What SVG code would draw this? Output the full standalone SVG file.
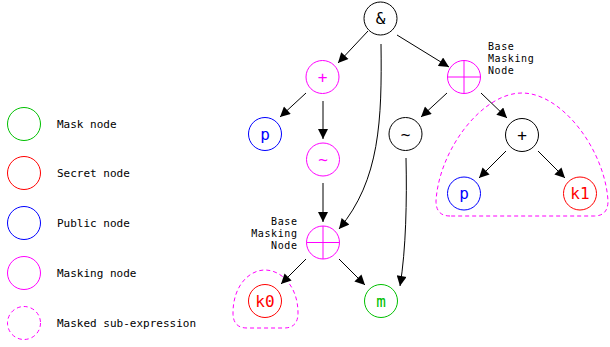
<svg xmlns="http://www.w3.org/2000/svg" width="610" height="347" viewBox="0 0 610 347">
<defs>
<style>
text{font-family:"DejaVu Sans Mono","Liberation Mono",monospace;}
.lbl{font-size:16px;text-anchor:middle;dominant-baseline:central;}
.leg{font-size:11px;fill:#000;}
.bm{font-size:10px;letter-spacing:0.6px;fill:#000;}
.n{fill:#fff;stroke-width:1;}
.blk{stroke:#000;}
.mag{stroke:#ff00ff;}
.grn{stroke:#00c000;}
.red{stroke:#ff0000;}
.blu{stroke:#0000ff;}
.e{fill:none;stroke:#000;stroke-width:1;marker-end:url(#ah);}
.dash{fill:none;stroke:#ff00ff;stroke-width:1;stroke-dasharray:4,3;}
</style>
<marker id="ah" viewBox="0 0 10 10" refX="10" refY="5" markerWidth="11" markerHeight="10" markerUnits="userSpaceOnUse" orient="auto">
<path d="M0,0 L10,5 L0,10 Z" fill="#000"/>
</marker>
</defs>
<rect width="610" height="347" fill="#fff"/>

<g id="legend">
<circle cx="24" cy="124" r="16.5" class="n grn"/>
<text x="57" y="128" class="leg">Mask node</text>
<circle cx="24" cy="173" r="16.5" class="n red"/>
<text x="57" y="177" class="leg">Secret node</text>
<circle cx="24" cy="223" r="16.5" class="n blu"/>
<text x="57" y="227" class="leg">Public node</text>
<circle cx="24" cy="273" r="16.5" class="n mag"/>
<text x="57" y="277" class="leg">Masking node</text>
<circle cx="24" cy="323" r="16.5" class="dash"/>
<text x="57" y="327" class="leg">Masked sub-expression</text>
</g>

<g id="subexpr">
<path class="dash" d="M450 216 Q436 216 436 201 C439 150 482 93 522 93 C562 93 605 150 608 201 Q608 216 594 216 Z"/>
<path class="dash" d="M247 328 Q233 328 233 313 C233 286 249 270 265 270 C281 270 298 286 298 313 Q298 328 284 328 Z"/>
</g>

<g id="connectors">
<line class="e" x1="368" y1="31" x2="338" y2="63"/>
<line class="e" x1="397" y1="35" x2="449" y2="67"/>
<path class="e" d="M381 44 C382 120 380 180 339 229"/>
<line class="e" x1="306" y1="93" x2="280" y2="117"/>
<line class="e" x1="323" y1="101" x2="323" y2="139"/>
<line class="e" x1="323" y1="183" x2="323" y2="222"/>
<line class="e" x1="447" y1="93" x2="421" y2="117"/>
<line class="e" x1="481" y1="93" x2="507" y2="118"/>
<path class="e" d="M406 158 C407 200 406 250 400 286"/>
<line class="e" x1="506" y1="151" x2="479" y2="178"/>
<line class="e" x1="538" y1="151" x2="565" y2="178"/>
<line class="e" x1="306" y1="259" x2="281" y2="284"/>
<line class="e" x1="339" y1="259" x2="365" y2="285"/>
</g>

<g id="n_and"><circle cx="380.5" cy="18.5" r="16.5" class="n blk"/><text x="380.5" y="18.5" class="lbl" fill="#000">&amp;</text></g>
<g id="n_plus_m"><circle cx="322.5" cy="77" r="16.5" class="n mag"/><text x="322.5" y="77" class="lbl" fill="#ff00ff">+</text></g>
<g id="n_p1"><circle cx="265" cy="134" r="16.5" class="n blu"/><text x="265" y="134" class="lbl" fill="#0000ff">p</text></g>
<g id="n_tilde_m"><circle cx="323" cy="159.5" r="16.5" class="n mag"/><text x="323" y="159.5" class="lbl" fill="#ff00ff">~</text></g>
<g id="n_bm2">
<circle cx="323" cy="242.5" r="16.5" class="n mag"/>
<line x1="306.5" y1="242.5" x2="339.5" y2="242.5" class="mag"/>
<line x1="323" y1="226" x2="323" y2="259" class="mag"/>
<text class="bm" text-anchor="end"><tspan x="297.5" y="225.3">Base</tspan><tspan x="297.5" y="237">Masking</tspan><tspan x="297.5" y="248.7">Node</tspan></text>
</g>
<g id="n_k0"><circle cx="265" cy="301" r="16.5" class="n red"/><text x="265" y="301" class="lbl" fill="#ff0000">k0</text></g>
<g id="n_m"><circle cx="381" cy="301" r="16.5" class="n grn"/><text x="381" y="301" class="lbl" fill="#00c000">m</text></g>
<g id="n_bm1">
<circle cx="464" cy="77" r="16.5" class="n mag"/>
<line x1="447.5" y1="77" x2="480.5" y2="77" class="mag"/>
<line x1="464" y1="60.5" x2="464" y2="93.5" class="mag"/>
<text class="bm"><tspan x="488" y="50.3">Base</tspan><tspan x="488" y="62">Masking</tspan><tspan x="488" y="73.7">Node</tspan></text>
</g>
<g id="n_tilde"><circle cx="405.5" cy="134" r="16.5" class="n blk"/><text x="405.5" y="134" class="lbl" fill="#000">~</text></g>
<g id="n_plus"><circle cx="522" cy="135" r="16.5" class="n blk"/><text x="522" y="135" class="lbl" fill="#000">+</text></g>
<g id="n_p2"><circle cx="464" cy="193.5" r="16.5" class="n blu"/><text x="464" y="193.5" class="lbl" fill="#0000ff">p</text></g>
<g id="n_k1"><circle cx="580" cy="193.5" r="16.5" class="n red"/><text x="580" y="193.5" class="lbl" fill="#ff0000">k1</text></g>
</svg>
